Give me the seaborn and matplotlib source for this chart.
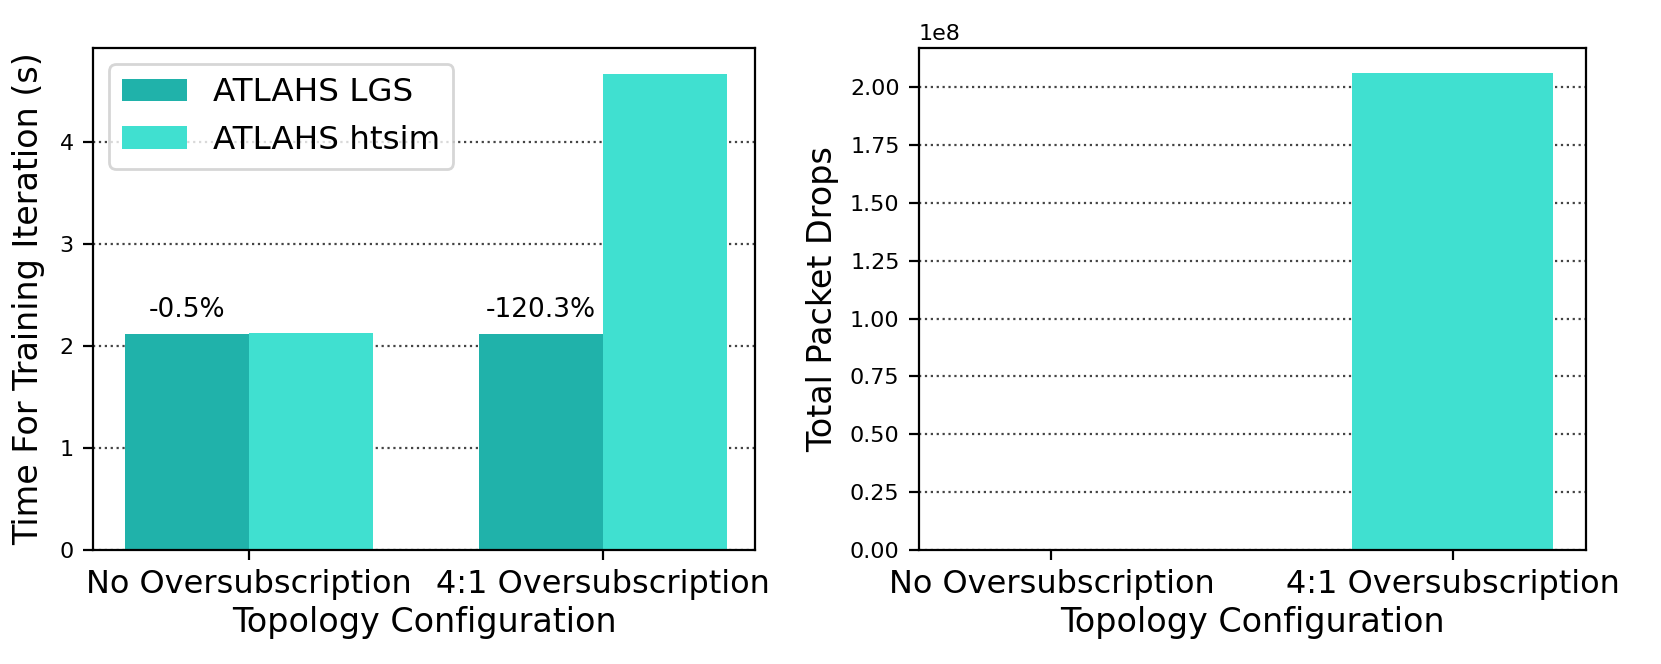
import matplotlib
matplotlib.use("Agg")
import matplotlib.pyplot as plt
import matplotlib.ticker as mticker
import seaborn as sns
import pandas as pd

categories = ["No Oversubscription", "4:1 Oversubscription"]
series_names = ["ATLAHS LGS", "ATLAHS htsim"]
lgs_time = [2.12, 2.12]
htsim_time = [2.13, 4.67]
diff_labels = ["-0.5%", "-120.3%"]
packet_drops = [0, 2.06e8]

colors = {"ATLAHS LGS": "#20B2AA", "ATLAHS htsim": "#40E0D0"}

plt.rcParams['font.family'] = ['DejaVu Sans']

df_time = pd.DataFrame({
    "config": categories * 2,
    "sim": [series_names[0]] * 2 + [series_names[1]] * 2,
    "time": lgs_time + htsim_time,
})
df_drops = pd.DataFrame({"config": categories, "drops": packet_drops})

fig = plt.figure(figsize=(8.305, 3.32), dpi=200)
ax1 = fig.add_axes([0.056, 0.1717, 0.3986, 0.756])
ax2 = fig.add_axes([0.5533, 0.1717, 0.4016, 0.756])

LBL = 12
TCK = 11.5
YTK = 8

sns.barplot(data=df_time, x="config", y="time", hue="sim", palette=colors,
            width=0.7, saturation=1, ax=ax1, errorbar=None)
ax1.set_axisbelow(True)
ax1.yaxis.grid(True, linestyle=':', color='#444444', linewidth=0.8)
ax1.set_xlabel("Topology Configuration", fontsize=LBL, labelpad=2)
ax1.set_ylabel("Time For Training Iteration (s)", fontsize=LBL, labelpad=5)
ax1.tick_params(axis='x', labelsize=TCK)
ax1.tick_params(axis='y', labelsize=YTK)
ax1.set_xlim(-0.44, 1.43)
ax1.set_ylim(0, 4.92)
ax1.set_yticks([0, 1, 2, 3, 4])
for i, (lab, h) in enumerate(zip(diff_labels, lgs_time)):
    ax1.text(i - 0.175, h + 0.1, lab, ha='center', va='bottom', fontsize=9.5)
ax1.legend(title=None, loc='upper left', fontsize=11.7, handlelength=2.0)
for s in ax1.spines.values():
    s.set_visible(True)
    s.set_color('black')

sns.barplot(data=df_drops, x="config", y="drops", color="#40E0D0",
            width=0.5, saturation=1, ax=ax2, errorbar=None)
ax2.set_axisbelow(True)
ax2.yaxis.grid(True, linestyle=':', color='#444444', linewidth=0.8)
ax2.set_xlabel("Topology Configuration", fontsize=LBL, labelpad=2)
ax2.set_ylabel("Total Packet Drops", fontsize=LBL, labelpad=4)
ax2.tick_params(axis='x', labelsize=TCK)
ax2.tick_params(axis='y', labelsize=YTK)
ax2.set_xlim(-0.33, 1.333)
ax2.set_ylim(0, 2.17e8)
ax2.yaxis.set_major_formatter(mticker.ScalarFormatter(useMathText=False))
ax2.set_yticks([0, 0.25e8, 0.5e8, 0.75e8, 1.0e8, 1.25e8, 1.5e8, 1.75e8, 2.0e8])
ax2.ticklabel_format(axis='y', style='sci', scilimits=(0, 0))
ax2.yaxis.get_offset_text().set_fontsize(YTK)
for s in ax2.spines.values():
    s.set_visible(True)
    s.set_color('black')

fig.savefig("out.png", dpi=200)
